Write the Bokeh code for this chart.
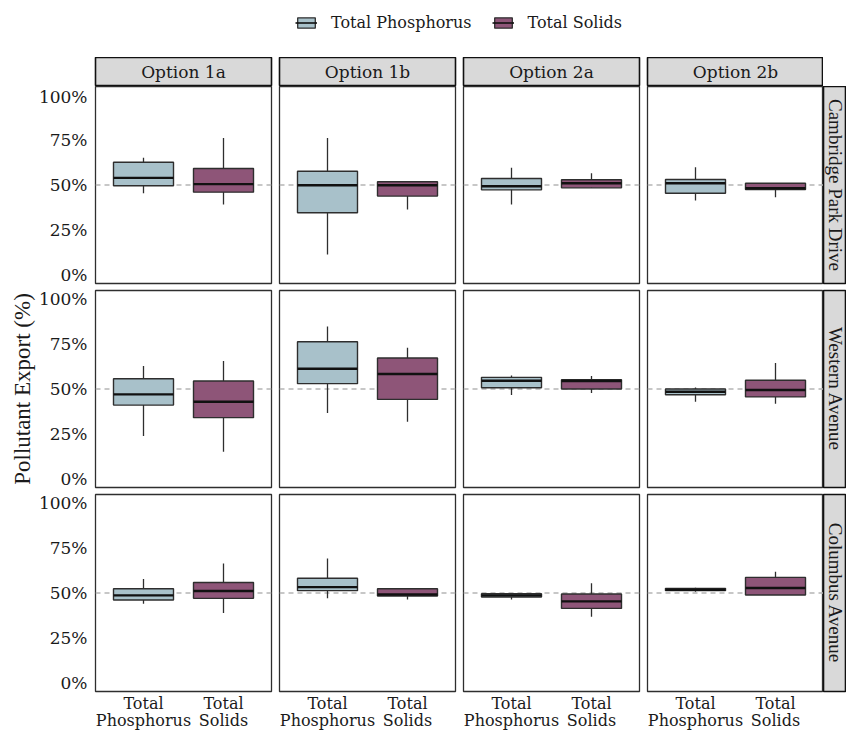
import math

from bokeh.core.properties import value
from bokeh.embed import file_html
from bokeh.layouts import column
from bokeh.models import (ColumnDataSource, FactorRange, FixedTicker, GridPlot,
                          Legend, LegendItem, NumeralTickFormatter, Range1d, Span)
from bokeh.plotting import figure
from bokeh.resources import INLINE

# ---------------------------------------------------------------- data
options = ["Option 1a", "Option 1b", "Option 2a", "Option 2b"]
sites = ["Cambridge Park Drive", "Western Avenue", "Columbus Avenue"]
pollutants = ["Total Phosphorus", "Total Solids"]
pollutant_tick_labels = ["Total\nPhosphorus", "Total\nSolids"]
y_ticks = [0, 0.25, 0.5, 0.75, 1.0]
reference_level = 0.5

# box-plot statistics, one row per site, one column per option
tp_lower = [[0.454, 0.112, 0.391, 0.413],
            [0.237, 0.366, 0.466, 0.429],
            [0.440, 0.470, 0.464, 0.507]]
tp_q1 = [[0.496, 0.345, 0.473, 0.454],
         [0.410, 0.530, 0.507, 0.468],
         [0.461, 0.513, 0.478, 0.513]]
tp_median = [[0.540, 0.499, 0.493, 0.510],
             [0.470, 0.613, 0.546, 0.485],
             [0.487, 0.533, 0.487, 0.518]]
tp_q3 = [[0.627, 0.577, 0.536, 0.531],
         [0.557, 0.764, 0.565, 0.500],
         [0.524, 0.582, 0.496, 0.526]]
tp_upper = [[0.652, 0.762, 0.596, 0.599],
            [0.628, 0.849, 0.576, 0.509],
            [0.578, 0.693, 0.500, 0.530]]

ts_lower = [[0.391, 0.363, 0.484, 0.432],
            [0.149, 0.317, 0.478, 0.418],
            [0.388, 0.464, 0.368, 0.489]]
ts_q1 = [[0.460, 0.438, 0.484, 0.475],
         [0.340, 0.442, 0.500, 0.456],
         [0.470, 0.483, 0.414, 0.489]]
ts_median = [[0.505, 0.499, 0.510, 0.482],
             [0.429, 0.584, 0.545, 0.494],
             [0.511, 0.492, 0.453, 0.528]]
ts_q3 = [[0.592, 0.518, 0.529, 0.510],
         [0.545, 0.673, 0.552, 0.549],
         [0.559, 0.524, 0.494, 0.587]]
ts_upper = [[0.762, 0.518, 0.566, 0.510],
            [0.656, 0.731, 0.573, 0.645],
            [0.665, 0.524, 0.554, 0.619]]

# ---------------------------------------------------------------- style
FILLS = ["#a8c1ca", "#8e5578"]
BOX_LINE = "#2e2e2e"
MEDIAN_LINE = "#111111"
TEXT = "#1a1a1a"
STRIP_FILL = "#d9d9d9"
SERIF_WIDE = "DejaVu Serif"
SERIF = "Liberation Serif"

PANEL_W, PANEL_H = 176, 197
LEFT_MARGIN, BOTTOM_MARGIN = 95, 42
STRIP_H, STRIP_W, LEGEND_H = 29, 23, 57
TOTAL_W = (LEFT_MARGIN + PANEL_W + 4) + 2 * (PANEL_W + 8) + (PANEL_W + 4) + STRIP_W


def col_borders(j):
    left = LEFT_MARGIN if j == 0 else 4
    right = 0 if j == len(options) - 1 else 4
    return left, right


def row_borders(i):
    top = 0 if i == 0 else 4
    bottom = BOTTOM_MARGIN if i == len(sites) - 1 else 3
    return top, bottom


def make_panel(i, j):
    left, right = col_borders(j)
    top, bottom = row_borders(i)
    p = figure(width=left + PANEL_W + right, height=top + PANEL_H + bottom,
               x_range=FactorRange(factors=pollutant_tick_labels, range_padding=0.1,
                                   range_padding_units="absolute"),
               y_range=Range1d(-0.05, 1.05),
               min_border_left=left, min_border_right=right,
               min_border_top=top, min_border_bottom=bottom,
               output_backend="svg", toolbar_location=None, tools="")
    p.grid.visible = False
    p.outline_line_color = BOX_LINE
    p.outline_line_width = 1.3
    p.background_fill_color = "white"

    src = ColumnDataSource(dict(
        pollutant=pollutant_tick_labels,
        lower=[tp_lower[i][j], ts_lower[i][j]],
        q1=[tp_q1[i][j], ts_q1[i][j]],
        median=[tp_median[i][j], ts_median[i][j]],
        q3=[tp_q3[i][j], ts_q3[i][j]],
        upper=[tp_upper[i][j], ts_upper[i][j]],
        fill=FILLS,
    ))

    p.add_layout(Span(location=reference_level, dimension="width",
                      line_color="#b5b5b5", line_dash="5 4", line_width=1.3,
                      level="underlay"))
    p.segment(x0="pollutant", y0="lower", x1="pollutant", y1="upper",
              source=src, line_color=BOX_LINE, line_width=1.3)
    p.vbar(x="pollutant", width=0.75, bottom="q1", top="q3", source=src,
           fill_color="fill", line_color=BOX_LINE, line_width=1.4)
    p.vbar(x="pollutant", width=0.75, bottom="median", top="median",
           source=src, fill_color=None, line_color=MEDIAN_LINE, line_width=2.4)

    for ax in p.axis:
        ax.major_tick_out = 0
        ax.major_tick_in = 0
        ax.minor_tick_out = 0
        ax.minor_tick_in = 0
        ax.major_tick_line_color = None
        ax.minor_tick_line_color = None
        ax.axis_line_color = None

    # y axis on the first column only
    yax = p.yaxis[0]
    if j == 0:
        yax.ticker = FixedTicker(ticks=y_ticks)
        yax.formatter = NumeralTickFormatter(format="0%")
        yax.major_label_standoff = 8
        yax.major_label_text_font = SERIF_WIDE
        yax.major_label_text_font_size = "17px"
        yax.major_label_text_color = TEXT
        if i == 1:
            yax.axis_label = "Pollutant Export (%)"
            yax.axis_label_text_font = SERIF
            yax.axis_label_text_font_size = "23px"
            yax.axis_label_text_font_style = "normal"
            yax.axis_label_text_color = TEXT
            yax.axis_label_standoff = 1
    else:
        yax.visible = False

    # x axis on the bottom row only
    xax = p.xaxis[0]
    if i == len(sites) - 1:
        xax.major_label_standoff = 2
        xax.major_label_text_font = SERIF_WIDE
        xax.major_label_text_font_size = "16px"
        xax.major_label_text_color = TEXT
        xax.major_label_text_line_height = 0.9
    else:
        xax.visible = False
    return p


def make_top_strip(j):
    left, right = col_borders(j)
    opt = options[j]
    p = figure(width=left + PANEL_W + right, height=STRIP_H,
               x_range=FactorRange(factors=[opt]), y_range=Range1d(0, 1),
               min_border_left=left, min_border_right=right,
               min_border_top=0, min_border_bottom=0,
               x_axis_location=None, y_axis_location=None,
               output_backend="svg", toolbar_location=None, tools="")
    p.grid.visible = False
    p.background_fill_color = STRIP_FILL
    p.outline_line_color = "#111111"
    p.outline_line_width = 1.6
    p.text(x=[opt], y=[0.5], text=[opt], text_align="center",
           text_baseline="middle", text_font=value(SERIF_WIDE),
           text_font_size="17px", text_color=TEXT)
    return p


def make_side_strip(i):
    top, bottom = row_borders(i)
    site = sites[i]
    p = figure(width=STRIP_W, height=top + PANEL_H + bottom,
               x_range=Range1d(0, 1), y_range=FactorRange(factors=[site]),
               min_border_left=0, min_border_right=0,
               min_border_top=top, min_border_bottom=bottom,
               x_axis_location=None, y_axis_location=None,
               output_backend="svg", toolbar_location=None, tools="")
    p.grid.visible = False
    p.background_fill_color = STRIP_FILL
    p.outline_line_color = "#111111"
    p.outline_line_width = 1.6
    p.text(x=[0.5], y=[site], text=[site], angle=-math.pi / 2,
           text_align="center", text_baseline="middle",
           text_font=value(SERIF), text_font_size="19px", text_color=TEXT)
    return p


def make_legend():
    p = figure(width=TOTAL_W, height=LEGEND_H,
               x_range=Range1d(0, 1), y_range=Range1d(0, 1),
               min_border=0, x_axis_location=None, y_axis_location=None,
               output_backend="svg", toolbar_location=None, tools="")
    p.grid.visible = False
    p.outline_line_color = None
    items = []
    nan = float("nan")
    for name, fill in zip(pollutants, FILLS):
        # key-only renderers: one undefined row so the legend draws their glyphs
        box = p.vbar(x=[nan], width=0.75, bottom=[nan], top=[nan], fill_color=fill,
                     line_color=BOX_LINE, line_width=1.3)
        med = p.segment(x0=[nan], y0=[nan], x1=[nan], y1=[nan],
                        line_color=MEDIAN_LINE, line_width=1.6)
        items.append(LegendItem(label=name, renderers=[box, med]))
    legend = Legend(items=items, orientation="horizontal", location=(295, 25),
                    glyph_width=22, glyph_height=13, label_standoff=14,
                    spacing=20, padding=0, margin=0,
                    border_line_color=None, background_fill_alpha=0,
                    label_text_font=SERIF_WIDE, label_text_font_size="16px",
                    label_text_color=TEXT)
    p.add_layout(legend)
    return p


children = []
for j in range(len(options)):
    children.append((make_top_strip(j), 0, j))
for i in range(len(sites)):
    for j in range(len(options)):
        children.append((make_panel(i, j), i + 1, j))
    children.append((make_side_strip(i), i + 1, len(options)))

grid = GridPlot(children=children, toolbar_location=None, spacing=0)
page = column(make_legend(), grid, spacing=0)

open("out.html", "w").write(file_html(page, INLINE))
